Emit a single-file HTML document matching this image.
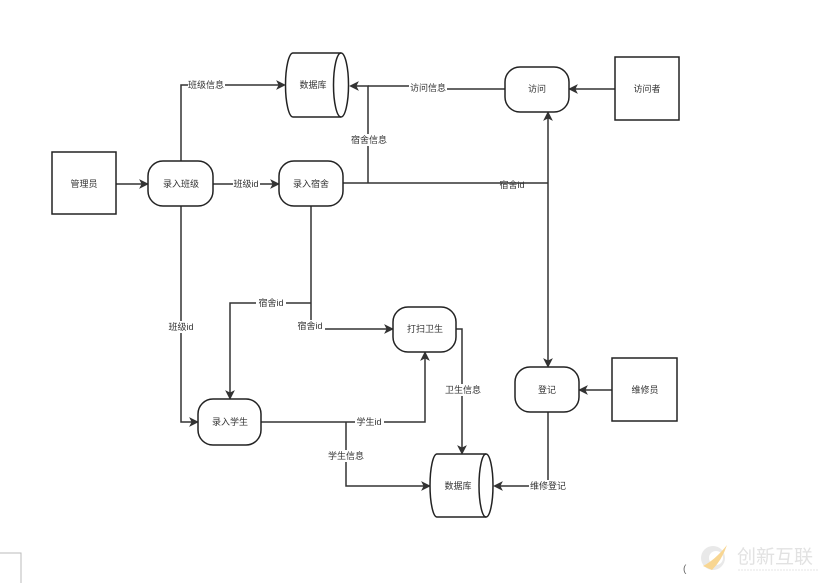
<!DOCTYPE html>
<html>
<head>
<meta charset="utf-8">
<style>
  html,body{margin:0;padding:0;background:#fff;}
  body{width:831px;height:587px;overflow:hidden;}
  svg{display:block;}
  text{font-family:"Liberation Sans","Noto Sans CJK SC","WenQuanYi Zen Hei",sans-serif;font-size:9px;fill:#333;}
</style>
</head>
<body>
<svg width="831" height="587" viewBox="0 0 831 587" xmlns="http://www.w3.org/2000/svg">
  <rect x="0" y="0" width="831" height="587" fill="#fff"/>

  <!-- connector lines -->
  <g fill="none" stroke="#333" stroke-width="1.5">
    <!-- 管理员 -> 录入班级 -->
    <line x1="116" y1="184" x2="142" y2="184"/>
    <!-- 录入班级 -> DB1 (班级信息) -->
    <polyline points="181,161 181,85 279,85"/>
    <!-- 录入班级 -> 录入宿舍 -->
    <line x1="213" y1="184" x2="273" y2="184"/>
    <!-- 录入宿舍 -> right (宿舍id) -->
    <line x1="343" y1="183" x2="548" y2="183"/>
    <!-- 宿舍信息 -> DB1 -->
    <polyline points="368,183 368,86 356,86"/>
    <!-- 访问 -> DB1 -->
    <polyline points="505,89 428,89 428,86 368,86"/>
    <!-- 访问者 -> 访问 -->
    <line x1="615" y1="89" x2="575" y2="89"/>
    <!-- vertical 548 -->
    <line x1="548" y1="118" x2="548" y2="361"/>
    <!-- 录入班级 -> 录入学生 -->
    <polyline points="181,206 181,422 192,422"/>
    <!-- 录入宿舍 -> 打扫卫生 -->
    <polyline points="311,206 311,329 387,329"/>
    <!-- branch -> 录入学生 -->
    <polyline points="311,303 230,303 230,393"/>
    <!-- 录入学生 -> 打扫卫生 -->
    <polyline points="261,422 425,422 425,358"/>
    <!-- 学生信息 -> DB2 -->
    <polyline points="346,422 346,486 424,486"/>
    <!-- 卫生信息 -> DB2 -->
    <polyline points="456,329 462,329 462,448"/>
    <!-- 维修员 -> 登记 -->
    <line x1="612" y1="390" x2="585" y2="390"/>
    <!-- 登记 -> DB2 -->
    <polyline points="548,412 548,486 500,486"/>
  </g>

  <!-- arrowheads -->
  <g fill="#333" stroke="#333" stroke-width="0.8" stroke-linejoin="miter">
    <polygon points="148,184 140,180 142,184 140,188"/>
    <polygon points="285,85 277,81 279,85 277,89"/>
    <polygon points="279,184 271,180 273,184 271,188"/>
    <polygon points="350,86 358,82 356,86 358,90"/>
    <polygon points="569,89 577,85 575,89 577,93"/>
    <polygon points="548,112 544,120 548,118 552,120"/>
    <polygon points="548,367 544,359 548,361 552,359"/>
    <polygon points="198,422 190,418 192,422 190,426"/>
    <polygon points="393,329 385,325 387,329 385,333"/>
    <polygon points="230,399 226,391 230,393 234,391"/>
    <polygon points="425,352 421,360 425,358 429,360"/>
    <polygon points="430,486 422,482 424,486 422,490"/>
    <polygon points="462,454 458,446 462,448 466,446"/>
    <polygon points="579,390 587,386 585,390 587,394"/>
    <polygon points="494,486 502,482 500,486 502,490"/>
  </g>

  <!-- nodes -->
  <g fill="#fff" stroke="#222" stroke-width="1.5">
    <rect x="52" y="152" width="64" height="62"/>
    <rect x="148" y="161" width="65" height="45" rx="15" ry="15"/>
    <rect x="279" y="161" width="64" height="45" rx="15" ry="15"/>
    <rect x="505" y="67" width="64" height="45" rx="15" ry="15"/>
    <rect x="615" y="57" width="64" height="63"/>
    <rect x="198" y="399" width="63" height="46" rx="15" ry="15"/>
    <rect x="393" y="307" width="63" height="45" rx="15" ry="15"/>
    <rect x="515" y="367" width="64" height="45" rx="15" ry="15"/>
    <rect x="612" y="358" width="65" height="63"/>
    <!-- DB1 -->
    <path d="M293,53 L341,53 A7.5 32 0 0 1 341,117 L293,117 A7.5 32 0 0 1 293,53 Z"/>
    <path d="M341,53 A7.5 32 0 0 0 341,117" fill="none"/>
    <!-- DB2 -->
    <path d="M437,454 L486,454 A7 31.5 0 0 1 486,517 L437,517 A7 31.5 0 0 1 437,454 Z"/>
    <path d="M486,454 A7 31.5 0 0 0 486,517" fill="none"/>
  </g>

  <!-- label backgrounds -->
  <g fill="#fff">
    <rect x="188" y="79" width="37" height="12"/>
    <rect x="233" y="178" width="27" height="12"/>
    <rect x="350" y="134" width="37" height="12"/>
    <rect x="409" y="82" width="38" height="12"/>
    <rect x="168" y="321" width="27" height="12"/>
    <rect x="256" y="297" width="30" height="12"/>
    <rect x="295" y="320" width="30" height="12"/>
    <rect x="355" y="416" width="29" height="12"/>
    <rect x="328" y="450" width="37" height="12"/>
    <rect x="445" y="384" width="37" height="12"/>
    <rect x="529" y="480" width="38" height="12"/>
  </g>

  <!-- labels -->
  <g text-anchor="middle" dominant-baseline="central">
    <text x="84" y="184">管理员</text>
    <text x="181" y="184">录入班级</text>
    <text x="311" y="184">录入宿舍</text>
    <text x="313" y="85">数据库</text>
    <text x="537" y="89">访问</text>
    <text x="647" y="89">访问者</text>
    <text x="230" y="422">录入学生</text>
    <text x="425" y="329">打扫卫生</text>
    <text x="547" y="390">登记</text>
    <text x="645" y="390">维修员</text>
    <text x="458" y="486">数据库</text>

    <text x="206" y="85">班级信息</text>
    <text x="246" y="184">班级id</text>
    <text x="369" y="140">宿舍信息</text>
    <text x="428" y="88">访问信息</text>
    <text x="512" y="185">宿舍id</text>
    <text x="181" y="327">班级id</text>
    <text x="271" y="303">宿舍id</text>
    <text x="310" y="326">宿舍id</text>
    <text x="369" y="422">学生id</text>
    <text x="346" y="456">学生信息</text>
    <text x="463" y="390">卫生信息</text>
    <text x="548" y="486">维修登记</text>
  </g>

  <!-- bottom-left gray corner -->
  <polyline points="0,553 21,553 21,583" fill="none" stroke="#bbb" stroke-width="1"/>

  <!-- watermark -->
  <g opacity="0.55">
    <circle cx="713" cy="558" r="12" fill="#d8d8d8"/>
    <circle cx="716" cy="558" r="7" fill="#fff"/>
    <path d="M703,566 Q715,560 727,545 Q722,560 712,570 Z" fill="#f3b63a"/>
  </g>
  <text x="737" y="563" style="font-size:19px;fill:#e2e2e2;">创新互联</text>
  <line x1="738" y1="570" x2="818" y2="570" stroke="#eee" stroke-width="1.5" stroke-dasharray="2,1"/>
  <text x="683" y="572" style="font-size:10px;fill:#666;">(</text>
</svg>
</body>
</html>
